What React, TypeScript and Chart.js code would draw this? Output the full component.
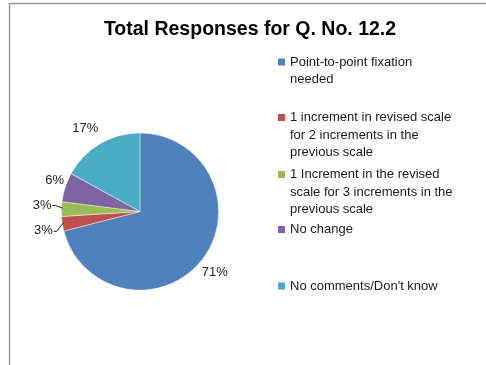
import React, { useEffect, useRef } from "react";
import { Chart, registerables } from "chart.js";

Chart.register(...registerables);

// ---- data ----
const titleText = "Total Responses for Q. No. 12.2";
const categories: string[][] = [
  ["Point-to-point fixation", "needed"],
  ["1 increment in revised scale", "for 2 increments in the", "previous scale"],
  ["1 Increment in the revised", "scale for 3 increments in the", "previous scale"],
  ["No change"],
  ["No comments/Don't know"],
];
const percentages = [71, 3, 3, 6, 17];
const sliceColors = ["#4F81BD", "#C0504D", "#9BBB59", "#8064A2", "#4BACC6"];

// ---- style / layout ----
const FONT = '"Liberation Sans", Arial, Helvetica, sans-serif';
const labelOffsets: [number, number][] = [
  [12.6, 13.1],
  [-19, 7],
  [-19.3, -4],
  [-10.6, -7.1],
  [-14.8, -15.5],
];
const leaderLines = [false, true, true, false, false];
const legendRowY = [62, 117.5, 174.5, 229.5, 286];
const legendLineHeight = 17.6;
const legendSwatchX = 278;
const legendTextX = 290;

const overlayPlugin = {
  id: "overlay",
  afterDraw(chart: any) {
    const ctx: CanvasRenderingContext2D = chart.ctx;
    ctx.save();

    // frame
    ctx.strokeStyle = "#9c9c9c";
    ctx.lineWidth = 1.5;
    ctx.beginPath();
    ctx.moveTo(9.5, 380);
    ctx.lineTo(9.5, 3.5);
    ctx.lineTo(500, 3.5);
    ctx.stroke();

    // title
    ctx.fillStyle = "#000";
    ctx.font = `bold 19.5px ${FONT}`;
    ctx.textAlign = "center";
    ctx.textBaseline = "alphabetic";
    ctx.fillText(titleText, 250, 35);

    // data labels
    const meta = chart.getDatasetMeta(0);
    ctx.font = `13px ${FONT}`;
    ctx.textBaseline = "middle";
    meta.data.forEach((arc: any, i: number) => {
      const p = arc.getProps(["x", "y", "startAngle", "endAngle", "outerRadius"], true);
      const mid = (p.startAngle + p.endAngle) / 2;
      const ox = p.x + Math.cos(mid) * p.outerRadius;
      const oy = p.y + Math.sin(mid) * p.outerRadius;
      const lx = ox + labelOffsets[i][0];
      const ly = oy + labelOffsets[i][1];
      const text = `${percentages[i]}%`;
      ctx.fillStyle = "#1a1a1a";
      ctx.textAlign = "center";
      ctx.fillText(text, lx, ly);
      if (leaderLines[i]) {
        const w = ctx.measureText(text).width;
        const sx = lx + w / 2 + 1;
        ctx.strokeStyle = "#1a1a1a";
        ctx.lineWidth = 1;
        ctx.beginPath();
        ctx.moveTo(sx, ly + 0.5);
        ctx.lineTo(sx + 3, ly + 0.5);
        ctx.lineTo(ox + 1, oy - 1);
        ctx.stroke();
      }
    });

    // legend
    ctx.textAlign = "left";
    ctx.textBaseline = "middle";
    ctx.font = `13px ${FONT}`;
    categories.forEach((lines, i) => {
      const y0 = legendRowY[i];
      ctx.fillStyle = sliceColors[i];
      ctx.fillRect(legendSwatchX, y0 - 3.5, 7, 7);
      ctx.fillStyle = "#1a1a1a";
      lines.forEach((ln, j) => {
        ctx.fillText(ln, legendTextX, y0 + j * legendLineHeight);
      });
    });

    ctx.restore();
  },
};

export default function App() {
  const ref = useRef<HTMLCanvasElement | null>(null);
  useEffect(() => {
    if (!ref.current) return;
    const chart = new Chart(ref.current, {
      type: "pie",
      data: {
        labels: categories,
        datasets: [
          {
            data: percentages,
            backgroundColor: sliceColors,
            borderColor: "rgba(255,255,255,0.55)",
            borderWidth: 0.8,
          },
        ],
      },
      options: {
        responsive: false,
        animation: false,
        devicePixelRatio: 1,
        layout: { padding: { left: 61, right: 267, top: 132.5, bottom: 74.5 } },
        plugins: {
          legend: { display: false },
          title: { display: false },
          tooltip: { enabled: false },
        },
      },
      plugins: [overlayPlugin],
    });
    return () => chart.destroy();
  }, []);
  return (
    <div style={{ position: "absolute", left: 0, top: 0, width: 486, height: 365, background: "#fff" }}>
      <canvas ref={ref} width={486} height={365} style={{ width: 486, height: 365, display: "block" }} />
    </div>
  );
}
